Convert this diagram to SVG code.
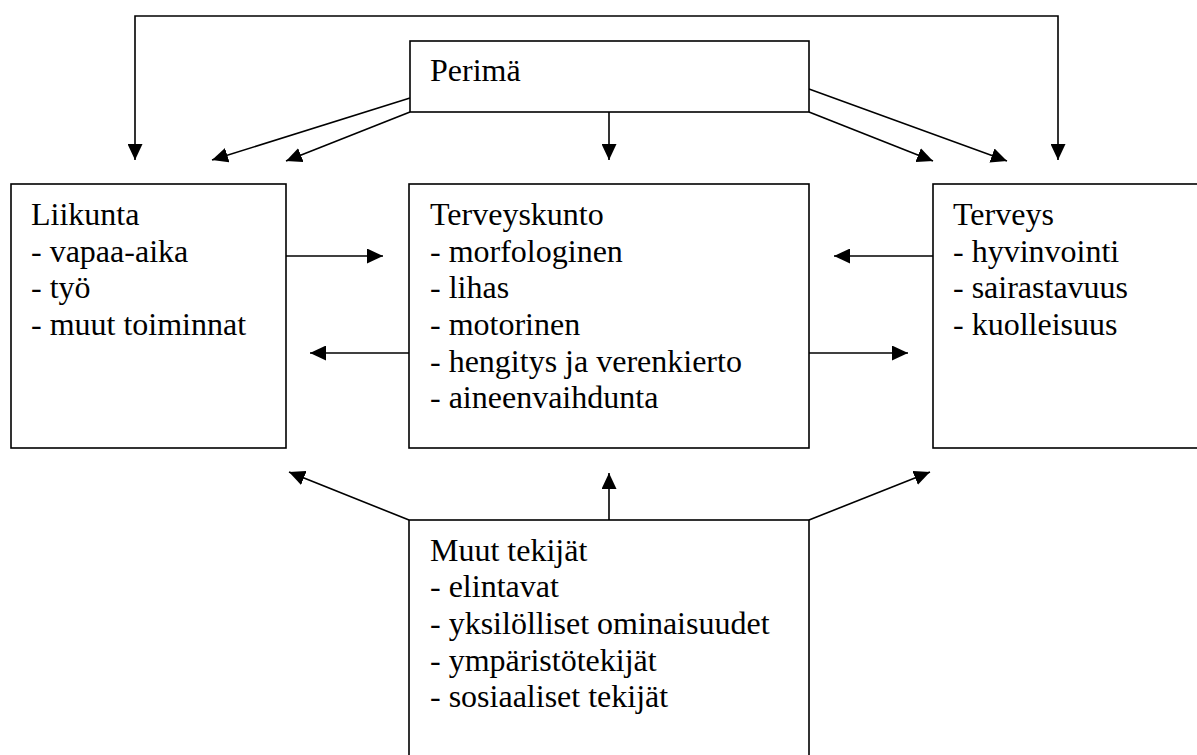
<svg xmlns="http://www.w3.org/2000/svg" width="1197" height="755" viewBox="0 0 1197 755">
<style>
.box{fill:#fff;stroke:#000;stroke-width:1.6}
.c{fill:none;stroke:#000;stroke-width:1.6;marker-end:url(#ah)}
.t{font-family:'Liberation Serif','Times New Roman',Times,'Tinos','DejaVu Serif','Noto Serif',serif;font-size:32px;fill:#000}
</style>
<defs>
<marker id="ah" markerUnits="userSpaceOnUse" markerWidth="16" markerHeight="15" refX="16" refY="7.5" orient="auto-start-reverse" viewBox="0 0 16 15">
<path d="M0,0 L16,7.5 L0,15 z" fill="#000"/>
</marker>
</defs>
<rect width="1197" height="755" fill="#fff"/>
<g id="connectors">
<path class="c" d="M135,160 V16 H1058 V160" style="marker-start:url(#ah)"/>
<path class="c" d="M410,98 L212,160"/>
<path class="c" d="M410,112 L286,161"/>
<path class="c" d="M609,112 L609,160"/>
<path class="c" d="M809,112 L933,161"/>
<path class="c" d="M809,89 L1007,161"/>
<path class="c" d="M286,256 L383,256"/>
<path class="c" d="M409,353 L310,353"/>
<path class="c" d="M933,256 L834,256"/>
<path class="c" d="M809,353 L908,353"/>
<path class="c" d="M409,520 L289,472"/>
<path class="c" d="M609,520 L609,473"/>
<path class="c" d="M809,520 L930,472"/>
</g>
<g id="perima" class="t">
<rect class="box" x="410" y="41" width="399" height="71"/>
<text x="430" y="81">Perimä</text>
</g>
<g id="liikunta" class="t">
<rect class="box" x="11" y="184" width="275" height="264"/>
<text x="31" y="225">Liikunta</text>
<text x="31" y="261.7">- vapaa-aika</text>
<text x="31" y="298.3">- työ</text>
<text x="31" y="335">- muut toiminnat</text>
</g>
<g id="terveyskunto" class="t">
<rect class="box" x="409" y="184" width="400" height="264"/>
<text x="430" y="225">Terveyskunto</text>
<text x="430" y="261.7">- morfologinen</text>
<text x="430" y="298.3">- lihas</text>
<text x="430" y="335">- motorinen</text>
<text x="430" y="371.7">- hengitys ja verenkierto</text>
<text x="430" y="408.3">- aineenvaihdunta</text>
</g>
<g id="terveys" class="t">
<rect class="box" x="933" y="184" width="300" height="264"/>
<text x="953" y="225">Terveys</text>
<text x="953" y="261.7">- hyvinvointi</text>
<text x="953" y="298.3">- sairastavuus</text>
<text x="953" y="335">- kuolleisuus</text>
</g>
<g id="muut" class="t">
<rect class="box" x="409" y="520" width="400" height="260"/>
<text x="430" y="560.7">Muut tekijät</text>
<text x="430" y="597.3">- elintavat</text>
<text x="430" y="634">- yksilölliset ominaisuudet</text>
<text x="430" y="670.7">- ympäristötekijät</text>
<text x="430" y="707.3">- sosiaaliset tekijät</text>
</g>
</svg>
